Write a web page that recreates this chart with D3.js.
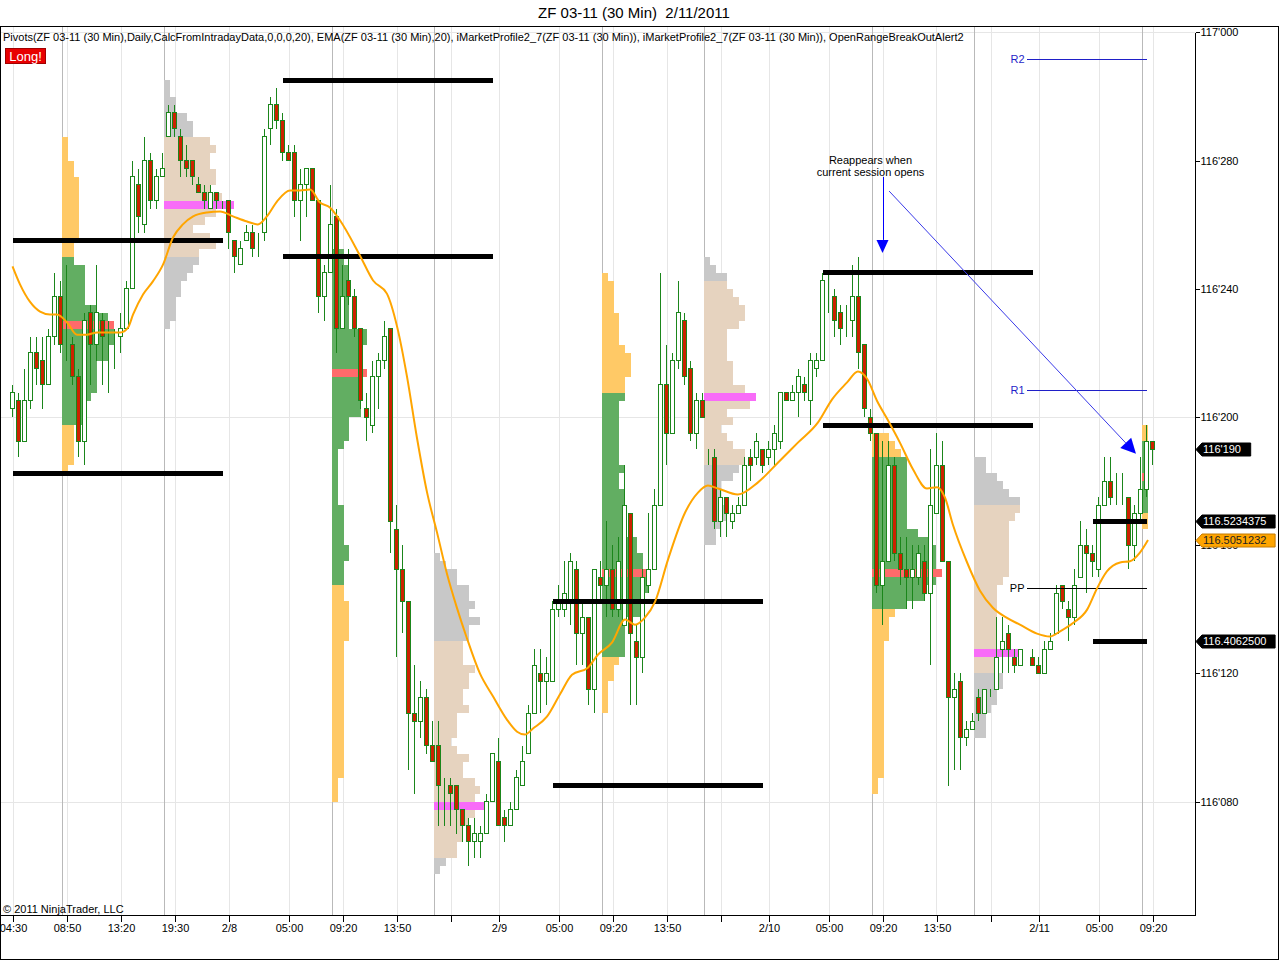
<!DOCTYPE html>
<html><head><meta charset="utf-8">
<script src="https://cdn.jsdelivr.net/npm/d3@7"></script>
<style>
html,body{margin:0;padding:0;background:#fff;}
svg{display:block;font-family:"Liberation Sans",Arial,sans-serif;}
</style></head><body>
<svg id="chart" width="1280" height="961"></svg>
<script>
// ---------------- DATA (prices in 32nds above 116, e.g. 19.0 = 116'190) ----------------
const tickBars   = [0, 9, 18, 27, 36, 46, 55, 64, 73, 81, 91, 100, 109, 118, 126, 136, 145, 154, 163, 171, 181, 190];
const tickLabels = ["04:30","08:50","13:20","19:30","2/8","05:00","09:20","13:50","","2/9","05:00","09:20","13:50","","2/10","05:00","09:20","13:50","","2/11","05:00","09:20"];
const priceTicks = [8, 12, 16, 20, 24, 28, 32];
const gridPrices = [8, 20, 32];

const open = [
20.25,20.5,19.25,20.5,22.0,21.75,21.0,22.5,23.75,22.25,
22.25,21.25,19.25,23.25,22.25,23.0,22.75,22.5,22.5,22.75,
24.0,27.25,26.0,28.0,26.75,27.5,28.75,29.5,28.75,28.0,
28.0,27.25,27.0,26.5,27.0,26.75,26.75,25.5,24.75,25.5,
25.75,25.5,25.75,29.0,29.75,29.25,28.25,28.25,26.75,27.25,
27.75,26.75,23.75,24.5,26.25,22.75,24.25,23.75,22.75,20.25,
19.75,21.25,21.75,22.75,16.5,15.25,14.25,10.75,10.5,11.25,
9.75,9.75,8.25,8.5,8.5,7.75,7.25,6.75,6.75,7.0,
8.0,9.25,7.5,7.25,7.75,8.5,9.5,10.75,12.0,11.75,
11.75,14.0,14.0,14.25,15.25,13.25,13.75,11.5,15.0,14.75,
15.25,14.0,13.5,17.0,13.0,12.5,14.75,15.25,17.25,21.0,
19.5,21.75,23.0,21.5,19.5,20.5,18.75,18.75,16.75,17.5,
16.75,17.0,17.25,18.75,18.75,19.0,18.75,19.0,19.25,20.75,
20.5,20.75,21.0,20.5,21.5,21.75,24.0,23.75,23.25,22.75,
23.0,23.75,22.25,20.0,19.5,14.75,15.5,18.5,15.75,15.25,
15.0,15.0,15.5,14.5,17.0,18.5,15.5,11.25,11.75,10.0,
10.25,11.25,10.75,11.5,11.5,12.75,13.25,12.5,12.25,12.75,
12.5,12.25,12.0,12.75,13.25,14.75,14.0,13.75,15.0,16.0,
15.75,15.25,17.25,18.0,17.5,17.5,17.5,16.0,17.0,17.75,
19.25];
const high = [
21.0,20.75,21.5,22.5,22.5,22.5,22.75,24.5,24.25,24.75,
22.5,21.5,23.25,23.5,24.75,23.25,23.0,22.75,23.25,24.25,
28.0,27.75,28.75,28.25,27.75,28.25,29.75,29.75,29.0,28.5,
28.0,27.5,27.25,27.25,27.0,26.75,26.75,25.5,25.5,26.0,
26.0,25.75,29.0,30.0,30.25,29.5,28.5,28.5,27.75,27.75,
27.75,26.75,24.75,27.25,26.5,24.75,25.25,24.0,22.75,20.75,
21.75,22.0,23.0,22.75,17.25,16.0,14.25,12.25,11.75,11.5,
10.5,10.5,8.75,8.75,8.5,7.75,7.5,7.5,7.25,8.25,
9.5,10.0,7.75,8.0,9.0,9.75,11.0,12.75,12.75,12.5,
14.25,14.75,15.5,15.75,15.5,14.25,13.75,15.25,15.5,16.75,
16.0,16.25,18.5,17.0,13.5,15.25,17.0,17.75,24.5,22.25,
22.0,24.25,23.25,21.75,20.75,20.75,19.0,19.0,17.75,17.5,
17.25,17.5,18.75,19.0,19.5,19.0,19.25,19.75,20.75,20.75,
21.0,21.5,21.25,22.0,22.0,24.5,24.5,24.0,23.5,23.5,
24.75,25.0,22.25,20.25,19.5,19.25,19.25,18.75,16.25,16.25,
16.0,16.0,16.0,19.0,19.5,19.25,15.5,12.0,12.0,10.5,
10.75,11.5,11.5,11.5,13.75,13.75,13.5,12.75,12.75,12.75,
12.75,12.5,13.0,13.25,14.75,14.75,14.25,15.25,16.75,16.5,
16.0,17.5,18.75,18.75,18.25,18.25,17.5,17.25,18.75,19.75,
19.25];
const low = [
20.0,18.75,19.25,20.25,21.0,20.25,21.0,22.25,22.0,21.75,
21.0,18.75,18.5,21.0,21.75,21.0,20.75,21.5,22.0,22.75,
24.0,25.75,25.75,26.5,26.5,27.5,28.75,28.75,27.5,27.5,
27.25,27.0,26.5,26.5,26.5,26.5,25.25,24.5,24.75,25.5,
25.0,25.0,25.5,28.5,29.0,28.0,28.0,26.25,25.5,26.25,
26.75,23.25,23.0,24.5,22.0,22.75,23.5,22.5,20.25,19.25,
19.5,20.25,21.5,15.75,12.5,13.25,9.0,8.25,10.0,9.5,
9.25,7.25,7.25,7.25,7.0,6.75,6.0,6.25,6.25,7.0,
8.0,7.25,6.75,7.25,7.75,8.5,9.5,10.75,10.75,11.0,
11.75,13.75,13.75,13.5,12.25,12.25,11.0,10.75,14.25,13.75,
13.75,13.75,13.5,11.0,11.0,12.0,14.5,15.25,17.25,18.5,
19.5,21.5,21.0,19.25,19.0,20.0,18.5,16.5,16.25,16.25,
16.5,17.0,17.25,18.0,18.5,18.25,18.5,18.5,19.0,20.5,
20.5,20.0,20.5,19.75,21.25,21.75,23.25,22.5,22.25,22.5,
22.5,21.5,20.0,19.25,14.5,13.5,15.5,15.5,14.75,14.0,
14.0,14.75,14.25,12.25,17.0,15.5,8.5,9.0,9.0,9.75,
10.25,10.5,10.75,11.25,11.5,12.0,12.0,12.0,12.25,12.75,
12.25,12.0,12.0,12.75,13.25,14.0,13.0,13.5,15.0,14.5,
15.0,15.0,17.25,17.25,17.25,17.25,15.25,15.5,16.75,17.5,
18.5];
const close = [
20.75,19.25,20.5,22.0,21.5,21.0,22.5,23.75,22.25,22.25,
21.25,19.25,23.0,22.25,23.25,22.5,22.75,22.5,22.75,24.0,
27.5,26.25,28.0,26.75,27.5,27.75,29.5,29.0,28.0,27.75,
27.5,27.0,26.75,27.0,26.75,26.75,25.75,25.0,25.25,25.75,
25.25,25.5,28.75,29.75,29.25,28.25,28.0,26.75,27.25,27.75,
26.75,23.75,24.5,26.0,22.75,23.75,23.75,22.75,20.5,20.0,
21.25,21.75,22.5,16.75,15.25,14.25,10.75,10.5,11.25,9.75,
9.25,8.5,8.25,8.25,7.75,7.25,6.75,7.0,7.0,8.0,
9.5,7.25,7.25,7.75,8.75,9.25,10.75,12.25,11.75,12.0,
14.0,14.25,14.5,15.5,13.25,13.75,11.5,15.25,14.75,15.25,
14.0,15.5,17.25,13.25,12.5,15.0,15.25,17.25,21.0,19.5,
21.75,23.25,21.25,19.5,20.5,20.0,18.75,16.75,17.5,17.0,
17.0,17.25,18.5,18.5,19.25,18.5,19.0,19.5,20.75,20.5,
20.75,21.25,20.75,21.75,21.75,24.25,24.0,23.0,22.75,22.75,
23.75,22.0,20.25,19.5,14.75,15.5,18.5,15.75,15.25,15.0,
15.25,15.75,14.5,17.25,18.5,15.5,11.25,11.5,10.0,10.25,
10.5,10.75,11.5,11.5,12.5,13.0,12.75,12.25,12.75,12.75,
12.25,12.0,12.75,13.0,14.5,14.25,13.75,14.75,16.0,15.75,
15.5,17.25,18.0,17.5,17.5,17.5,16.0,17.0,17.75,19.25,
19.0];

// EMA(20): bar position / value (32nds)
const emaBar = [0,1.25,2.9,4.6,6.25,7.4,9.1,10.75,12.4,14.1,16.25,18,19.25,20.1,21.75,23.4,25.1,26.75,28.4,30.1,32.4,34.6,36.75,39.1,40.9,42.4,44.1,46.25,47.9,49.6,51.25,52.9,54.6,57.9,60.1,62.4,64.1,65.75,67.4,69.1,70.75,72.4,74.1,75.75,77.9,80.1,82.4,84.1,85.4,86.75,89.1,91.25,93.25,95.9,97.6,99.9,102.1,103.75,105.4,107.1,109.25,112.1,114.25,115.9,117.6,120.9,124.25,127.6,130.9,134.25,136.6,139.1,140.9,142.4,144.1,145.75,147.9,150.1,152.4,154.1,155.4,156.75,159.1,161.25,163.4,165.75,167.9,170.75,172.9,174.6,176.75,179.1,180.75,182.4,184.6,186.25,187.9,189.25];
const emaVal = [24.70,24.14,23.60,23.29,23.20,23.20,22.95,22.57,22.57,22.64,22.64,22.64,22.79,23.20,23.82,24.23,24.76,25.60,26.01,26.26,26.38,26.41,26.26,26.10,26.01,26.26,26.73,27.07,27.07,27.10,26.69,26.54,26.13,25.04,24.26,23.85,22.82,21.26,19.36,17.64,16.40,15.12,14.03,13.09,12.00,11.28,10.56,10.18,10.09,10.28,10.66,11.35,11.96,12.18,12.59,12.96,13.68,13.52,13.74,14.24,15.55,17.02,17.64,17.86,17.77,17.58,17.96,18.58,19.20,19.83,20.55,21.08,21.42,21.20,20.50,19.95,19.20,18.36,17.77,17.81,17.49,16.63,15.46,14.58,14.05,13.73,13.52,13.24,13.15,13.31,13.57,13.99,14.65,15.18,15.46,15.50,15.77,16.164];
const emaLast = 116.5051232;

// Opening-range lines
const orbStart = [0, 45, 90, 135, 180];
const orbEnd   = [35, 80, 125, 170, 189];
const orbHigh  = [25.5, 30.5, 14.25, 24.5, 16.75];
const orbLow   = [18.25, 25.0, 8.5, 19.75, 13.0];

// Daily pivots for current session
const pivotNames = ["R2", "R1", "PP"];
const pivotVals  = [31.16, 20.83, 14.66];
const pivotFrom = 169, pivotTo = 189;

// Market profiles: runs of [top, bottom, TPO count]
const profStartBar = [9, 26, 54, 71, 99, 116, 144, 161, 189];
const profKind = ["rth","eth","rth","eth","rth","eth","rth","eth","rth"];
const profVAH = [25.0, 28.75, 25.25, 13.0, 20.75, 24.25, 18.75, 17.25, 19.25];
const profVAL = [19.75, 25.0, 14.75, 6.25, 12.5, 18.5, 14.0, 12.0, 17.0];
const profPOC = [22.75, 26.5, 21.25, 7.75, 15.0, 20.5, 15.0, 12.5, 18.0];
const profPOCLen = [9, 12, 6, 9, 8, 9, 12, 8, 1];
const profile1 = [[28.75,28.0,1],[28.0,27.5,2],[27.5,25.5,3],[25.5,25.0,2],[25.0,24.75,2],[24.75,23.75,4],[23.75,23.5,4],[23.5,23.25,6],[23.25,23.0,8],[23.0,22.75,9],[22.75,22.25,9],[22.25,21.75,8],[21.75,20.75,6],[20.75,20.5,5],[20.5,19.75,4],[19.75,18.5,2],[18.5,18.25,1]];
const profile2 = [[30.5,30.0,1],[30.0,29.5,2],[29.5,29.25,4],[29.25,28.75,5],[28.75,28.5,8],[28.5,28.25,9],[28.25,27.75,8],[27.75,27.25,9],[27.25,27.0,8],[27.0,26.75,10],[26.75,26.5,10],[26.5,26.25,9],[26.25,26.0,7],[26.0,25.75,5],[25.75,25.5,8],[25.5,25.25,9],[25.25,25.0,6],[25.0,24.75,6],[24.75,24.5,5],[24.5,24.25,4],[24.25,23.75,3],[23.75,23.0,2],[23.0,22.75,1]];
const profile3 = [[25.25,24.75,2],[24.75,22.75,3],[22.75,22.25,6],[22.25,21.5,5],[21.5,21.25,6],[21.25,20.0,5],[20.0,19.25,3],[19.25,19.0,2],[19.0,17.25,1],[17.25,16.0,2],[16.0,15.5,3],[15.5,14.75,2],[14.75,14.25,2],[14.25,13.0,3],[13.0,8.75,2],[8.75,8.0,1]];
const profile4 = [[15.75,15.5,1],[15.5,15.25,2],[15.25,14.75,4],[14.75,14.25,6],[14.25,14.0,7],[14.0,13.75,6],[13.75,13.5,8],[13.5,13.0,6],[13.0,12.25,5],[12.25,12.0,7],[12.0,11.5,6],[11.5,11.0,5],[11.0,10.75,6],[10.75,10.0,4],[10.0,9.75,3],[9.75,9.5,4],[9.5,9.25,6],[9.25,8.75,5],[8.75,8.5,7],[8.5,8.25,8],[8.25,8.0,7],[8.0,7.75,8],[7.75,7.5,7],[7.5,7.25,6],[7.25,6.75,5],[6.75,6.25,4],[6.25,6.0,2],[6.0,5.75,1]];
const profile5 = [[24.5,24.25,1],[24.25,23.25,2],[23.25,22.25,3],[22.25,22.0,4],[22.0,21.25,5],[21.25,20.75,4],[20.75,20.5,4],[20.5,18.5,3],[18.5,18.25,4],[18.25,17.75,3],[17.75,16.25,4],[16.25,15.75,6],[15.75,15.25,7],[15.25,15.0,8],[15.0,14.5,8],[14.5,13.75,7],[13.75,12.5,4],[12.5,12.25,3],[12.25,11.75,2],[11.75,10.75,1]];
const profile6 = [[25.0,24.75,1],[24.75,24.5,2],[24.5,24.25,4],[24.25,24.0,4],[24.0,23.75,5],[23.75,23.5,6],[23.5,23.0,7],[23.0,22.75,6],[22.75,22.25,4],[22.25,21.75,4],[21.75,21.0,5],[21.0,20.75,7],[20.75,20.5,8],[20.5,20.25,8],[20.25,20.0,4],[20.0,19.75,5],[19.75,19.5,3],[19.5,19.25,4],[19.25,19.0,5],[19.0,18.5,7],[18.5,18.25,6],[18.25,18.0,5],[18.0,17.25,3],[17.25,16.75,4],[16.75,16.5,3],[16.5,16.0,2]];
const profile7 = [[19.5,19.25,3],[19.25,19.0,4],[19.0,18.75,5],[18.75,16.5,6],[16.5,16.25,8],[16.25,16.0,10],[16.0,15.25,11],[15.25,15.0,11],[15.0,14.75,11],[14.75,14.25,9],[14.25,14.0,6],[14.0,13.75,4],[13.75,13.0,3],[13.0,8.75,2],[8.75,8.25,1]];
const profile8 = [[18.75,18.25,2],[18.25,18.0,4],[18.0,17.75,5],[17.75,17.5,6],[17.5,17.25,8],[17.25,17.0,8],[17.0,16.75,7],[16.75,15.0,6],[15.0,14.75,5],[14.75,12.75,4],[12.75,12.5,4],[12.5,12.0,4],[12.0,11.5,5],[11.5,11.0,4],[11.0,10.75,3],[10.75,10.0,2]];
const profile9 = [[19.75,19.25,1],[19.25,17.0,1],[17.0,16.5,1]];

// Annotation (drawing objects) in bar / price space
const noteLines = ["Reappears when", "current session opens"];
const noteBar = 143, notePrice = 28.0;
const arrowFromBar = [145, 146.1], arrowFromP = [27.49, 27.05];
const arrowToBar   = [145, 187.25], arrowToP = [25.12, 18.85];

const titleText = "ZF 03-11 (30 Min)  2/11/2011";
const indicatorText = "Pivots(ZF 03-11 (30 Min),Daily,CalcFromIntradayData,0,0,0,20), EMA(ZF 03-11 (30 Min),20), iMarketProfile2_7(ZF 03-11 (30 Min)), iMarketProfile2_7(ZF 03-11 (30 Min)), OpenRangeBreakOutAlert2";

// ---------------- STYLE ----------------
const C = {
  grid:"#e6e6e6", session:"#b9b9b9", wick:"#1b861b", down:"#cc2200",
  orange:"#ffc966", green:"#62ae62", grey:"#c8c8c8", tan:"#e6d3bf",
  pocR:"#ff6b6b", pocE:"#f86cf8", ema:"#ffa500", blue:"#0000ff", pivotBlue:"#1f1fc8"
};
const unitW = 5.8;

// ---------------- DRAW ----------------
const svg = d3.select("#chart");
const plotR = 1195.5, plotT = 27, plotB = 915.5;
const x = d3.scaleLinear().domain([0, 190]).range([12.5, 1152.5]);
const y = d3.scaleLinear().domain([8, 32]).range([801.6, 32.4]);

const fmt32 = v => {
  const w = 116 + Math.floor(v / 32 + 1e-9);
  const f = v - 32 * (w - 116);
  const n = Math.floor(f + 1e-9);
  const q = Math.floor((f - n) * 10 + 1e-9);
  return w + "'" + String(n).padStart(2, "0") + q;
};
const toDec = v => (116 + v / 32).toFixed(7);

svg.append("rect").attr("width",1280).attr("height",961).attr("fill","#fff");
svg.append("defs").append("clipPath").attr("id","pc")
  .append("rect").attr("x",0).attr("y",plotT).attr("width",plotR).attr("height",plotB-plotT);
const plot = svg.append("g").attr("clip-path","url(#pc)");

// grid
const gridG = plot.append("g").attr("shape-rendering","crispEdges");
gridG.selectAll(".vg").data(tickBars).join("line")
  .attr("x1",d=>Math.round(x(d))+0.5).attr("x2",d=>Math.round(x(d))+0.5)
  .attr("y1",plotT).attr("y2",plotB).attr("stroke",C.grid);
gridG.selectAll(".hg").data(gridPrices).join("line")
  .attr("x1",0).attr("x2",plotR).attr("y1",d=>Math.round(y(d))+0.5).attr("y2",d=>Math.round(y(d))+0.5)
  .attr("stroke",C.grid);
gridG.selectAll(".sg").data(profStartBar).join("line")
  .attr("x1",d=>Math.round(x(d)-4.8)+0.5).attr("x2",d=>Math.round(x(d)-4.8)+0.5)
  .attr("y1",plotT).attr("y2",plotB).attr("stroke",C.session);

// profiles
const profiles = [profile1,profile2,profile3,profile4,profile5,profile6,profile7,profile8,profile9];
const profG = plot.append("g").attr("shape-rendering","crispEdges");
profiles.forEach((runs,k)=>{
  const left = Math.round(x(profStartBar[k]) - 4.8);
  const eth = profKind[k] === "eth";
  const g = profG.append("g");
  g.selectAll("rect").data(runs).join("rect")
    .attr("x",left).attr("y",d=>y(d[0]))
    .attr("width",d=>d[2]*unitW).attr("height",d=>y(d[1])-y(d[0]))
    .attr("fill",d=>(d[1] >= profVAL[k]-1e-6 && d[0] <= profVAH[k]+1e-6) ? (eth?C.tan:C.green) : (eth?C.grey:C.orange));
  g.append("rect").attr("x",left).attr("y",y(profPOC[k]+0.25))
    .attr("width",profPOCLen[k]*unitW).attr("height",y(profPOC[k])-y(profPOC[k]+0.25))
    .attr("fill",eth?C.pocE:C.pocR);
});

// candles
const bars = d3.range(open.length);
const cg = plot.append("g").attr("shape-rendering","crispEdges");
cg.selectAll(".wick").data(bars).join("line")
  .attr("x1",i=>x(i)).attr("x2",i=>x(i))
  .attr("y1",i=>y(high[i])).attr("y2",i=>y(low[i]))
  .attr("stroke",C.wick).attr("stroke-width",1);
cg.selectAll(".body").data(bars).join("rect")
  .attr("x",i=>x(i)-2).attr("width",4)
  .attr("y",i=>y(Math.max(open[i],close[i])))
  .attr("height",i=>Math.abs(y(open[i])-y(close[i])))
  .attr("fill",i=>close[i] >= open[i] ? "#fff" : C.down)
  .attr("stroke",C.wick).attr("stroke-width",1);

// opening range lines
const og = plot.append("g").attr("shape-rendering","crispEdges");
d3.range(orbStart.length).forEach(k=>{
  [orbHigh[k], orbLow[k]].forEach(v=>{
    og.append("line").attr("x1",x(orbStart[k])).attr("x2",x(orbEnd[k]))
      .attr("y1",y(v)).attr("y2",y(v)).attr("stroke","#000").attr("stroke-width",5);
  });
});

// pivots
const pg = plot.append("g");
pivotNames.forEach((n,k)=>{
  const col = n === "PP" ? "#000" : C.pivotBlue;
  pg.append("line").attr("x1",x(pivotFrom)).attr("x2",x(pivotTo))
    .attr("y1",Math.round(y(pivotVals[k]))+0.5).attr("y2",Math.round(y(pivotVals[k]))+0.5)
    .attr("stroke",col).attr("stroke-width",1).attr("shape-rendering","crispEdges");
  pg.append("text").attr("x",x(pivotFrom)-2).attr("y",y(pivotVals[k]))
    .attr("dy","0.35em").attr("text-anchor","end").attr("font-size",11).attr("fill",col).text(n);
});

// EMA
plot.append("path").datum(emaBar.map((b,i)=>[b, emaVal[i]]))
  .attr("d", d3.line().x(d=>x(d[0])).y(d=>y(d[1])).curve(d3.curveMonotoneX))
  .attr("fill","none").attr("stroke",C.ema).attr("stroke-width",2);

// annotation
const ag = plot.append("g");
noteLines.forEach((t,i)=>{
  ag.append("text").attr("x",x(noteBar)).attr("y",y(notePrice)+i*11.5).attr("dy","0.35em")
    .attr("text-anchor","middle").attr("font-size",11).attr("fill","#000").text(t);
});
function head(x1,y1,x2,y2,len,wid){
  const a = Math.atan2(y2-y1,x2-x1);
  const bx = x2-len*Math.cos(a), by = y2-len*Math.sin(a);
  const px = -Math.sin(a)*wid/2, py = Math.cos(a)*wid/2;
  return {bx,by,pts:[[x2,y2],[bx+px,by+py],[bx-px,by-py]]};
}
arrowFromBar.forEach((b,k)=>{
  const x1=x(b), y1=y(arrowFromP[k]), x2=x(arrowToBar[k]), y2=y(arrowToP[k]);
  const h = k===0 ? head(x1,y1,x2,y2,13,12) : head(x1,y1,x2,y2,15,15);
  ag.append("line").attr("x1",k===0?Math.round(x1)+0.5:x1).attr("y1",y1)
    .attr("x2",k===0?Math.round(x1)+0.5:h.bx).attr("y2",h.by)
    .attr("stroke",k===0?C.blue:"#3a3ae8").attr("stroke-width",1);
  ag.append("polygon").attr("points",h.pts.map(p=>p.join(",")).join(" ")).attr("fill",C.blue);
});

// axes
const ax = svg.append("g").attr("shape-rendering","crispEdges");
ax.append("line").attr("x1",plotR).attr("x2",plotR).attr("y1",Math.round(y(32))+0.5).attr("y2",plotB).attr("stroke","#000");
ax.append("line").attr("x1",0).attr("x2",plotR).attr("y1",plotB).attr("y2",plotB).attr("stroke","#000");

const yAxis = svg.append("g").attr("transform",`translate(${plotR},0)`)
  .call(d3.axisRight(y).tickValues(priceTicks).tickSize(4).tickPadding(1).tickFormat(fmt32));
yAxis.select(".domain").remove();
yAxis.selectAll("text").attr("font-size",11).attr("font-family","Liberation Sans, Arial, sans-serif").attr("fill","#000");
yAxis.selectAll("line").attr("stroke","#000").attr("shape-rendering","crispEdges");
yAxis.selectAll(".tick").attr("transform",d=>`translate(0,${Math.round(y(d))+0.5})`);

const xAxis = svg.append("g").attr("transform",`translate(0.5,${plotB})`)
  .call(d3.axisBottom(x).tickValues(tickBars).tickSize(6).tickPadding(3).tickFormat((d,i)=>tickLabels[i]));
xAxis.select(".domain").remove();
xAxis.selectAll("text").attr("font-size",11).attr("font-family","Liberation Sans, Arial, sans-serif").attr("fill","#000");
xAxis.selectAll("line").attr("stroke","#000").attr("shape-rendering","crispEdges");

// value tags
function tag(v, label, fill, txt){
  const yc = Math.round(y(v))+0.5, x0 = plotR+0.5, w = label.length*6.1+6;
  svg.append("polygon")
    .attr("points",[[x0,yc],[x0+6,yc-6.5],[x0+6+w,yc-6.5],[x0+6+w,yc+6.5],[x0+6,yc+6.5]].map(p=>p.join(",")).join(" "))
    .attr("fill",fill).attr("stroke",fill==="#000"?"#000":"#c47a00").attr("stroke-width",1);
  svg.append("text").attr("x",x0+7).attr("y",yc).attr("dy","0.36em").attr("font-size",11)
    .attr("fill",txt).text(label);
}
tag(close[close.length-1], fmt32(close[close.length-1]), "#000", "#fff");
tag(orbHigh[4], toDec(orbHigh[4]), "#000", "#fff");
tag((emaLast-116)*32, emaLast.toFixed(7), C.ema, "#222");
tag(orbLow[4], toDec(orbLow[4]), "#000", "#fff");

// frame
svg.append("rect").attr("x",0.5).attr("y",26.5).attr("width",1278).attr("height",933)
  .attr("fill","none").attr("stroke","#000").attr("shape-rendering","crispEdges");

// header texts
svg.append("text").attr("x",634).attr("y",13).attr("dy","0.35em").attr("text-anchor","middle")
  .attr("font-size",15).style("white-space","pre").attr("fill","#000").text(titleText);
svg.append("text").attr("x",3).attr("y",37).attr("dy","0.35em").attr("font-size",11).attr("fill","#000").text(indicatorText);
svg.append("rect").attr("x",5.5).attr("y",48.5).attr("width",40).attr("height",15).attr("fill","#e80000").attr("stroke","#a00000").attr("shape-rendering","crispEdges");
svg.append("text").attr("x",25.5).attr("y",56).attr("dy","0.36em").attr("text-anchor","middle").attr("font-size",13).attr("fill","#fff").text("Long!");
svg.append("text").attr("x",3).attr("y",909).attr("dy","0.35em").attr("font-size",11).attr("fill","#000").text("\u00a9 2011 NinjaTrader, LLC");
</script></body></html>
